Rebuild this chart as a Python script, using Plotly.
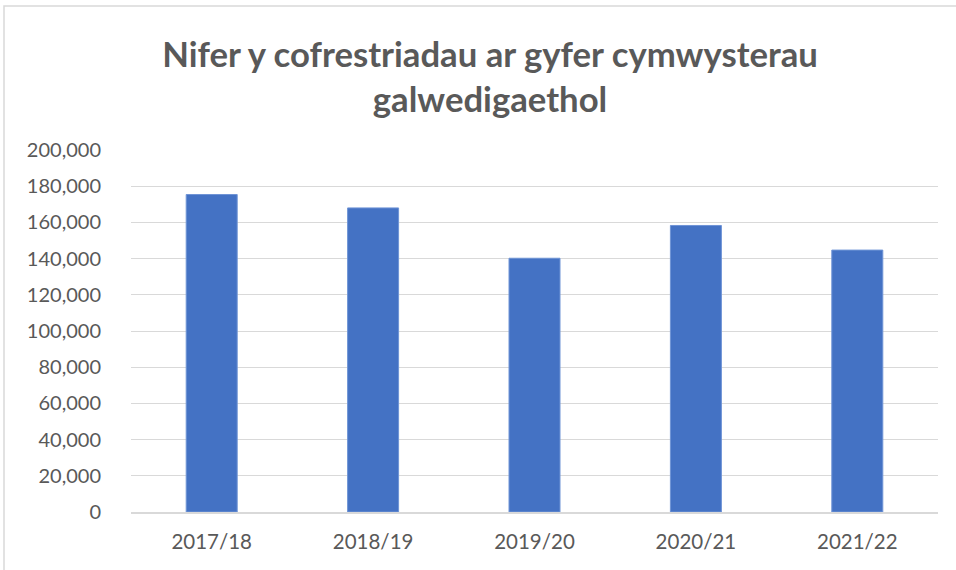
import plotly.graph_objects as go

categories = ["2017/18", "2018/19", "2019/20", "2020/21", "2021/22"]
values = [175400, 168000, 140200, 158300, 144700]
tick_vals = [0, 20000, 40000, 60000, 80000, 100000, 120000, 140000, 160000, 180000, 200000]
tick_text = ["0", "20,000", "40,000", "60,000", "80,000", "100,000", "120,000",
             "140,000", "160,000", "180,000", "200,000"]
title_text = "Nifer y cofrestriadau ar gyfer cymwysterau<br>galwedigaethol"

fig = go.Figure(go.Bar(x=categories, y=values,
                       marker=dict(color="#4472C4", line=dict(color="#6f94d6", width=1))))

L, R, T, B = 131, 18, 150, 58
W, H = 956, 570
pw, ph = W - L - R, H - T - B

fig.update_layout(
    width=W, height=H,
    margin=dict(l=L, r=R, t=T, b=B, pad=0),
    paper_bgcolor="white", plot_bgcolor="white",
    bargap=0.684,
    showlegend=False,
    font=dict(family="Lato, Carlito, sans-serif", color="#595959", size=20),
    title=dict(text=title_text, x=490 / W, xanchor="center", xref="container",
               y=1 - 67 / H, yanchor="middle", yref="container",
               font=dict(family="Lato, sans-serif", size=34.7, color="#595959", weight="bold")),
    xaxis=dict(showgrid=False, showline=True, linecolor="#d9d9d9", linewidth=1.5,
               ticks="", tickfont=dict(size=20.5, color="#595959"), ticklabelstandoff=11),
    yaxis=dict(range=[0, 200000], tickvals=tick_vals, ticktext=tick_text,
               showgrid=True, gridcolor="#d9d9d9", gridwidth=1.3, zeroline=False,
               showline=False, ticks="", ticklabelstandoff=29,
               tickfont=dict(size=20, color="#595959")),
    shapes=[dict(type="rect", xref="paper", yref="paper",
                 x0=(4 - L) / pw, x1=1.2, y0=-0.3, y1=(H - B - 6) / ph,
                 line=dict(color="#d9d9d9", width=1.5), fillcolor="rgba(0,0,0,0)", layer="below")],
)

fig.write_html("out.html", config={"displayModeBar": False},
               post_script="document.body.style.margin='0';document.body.style.padding='0';")
